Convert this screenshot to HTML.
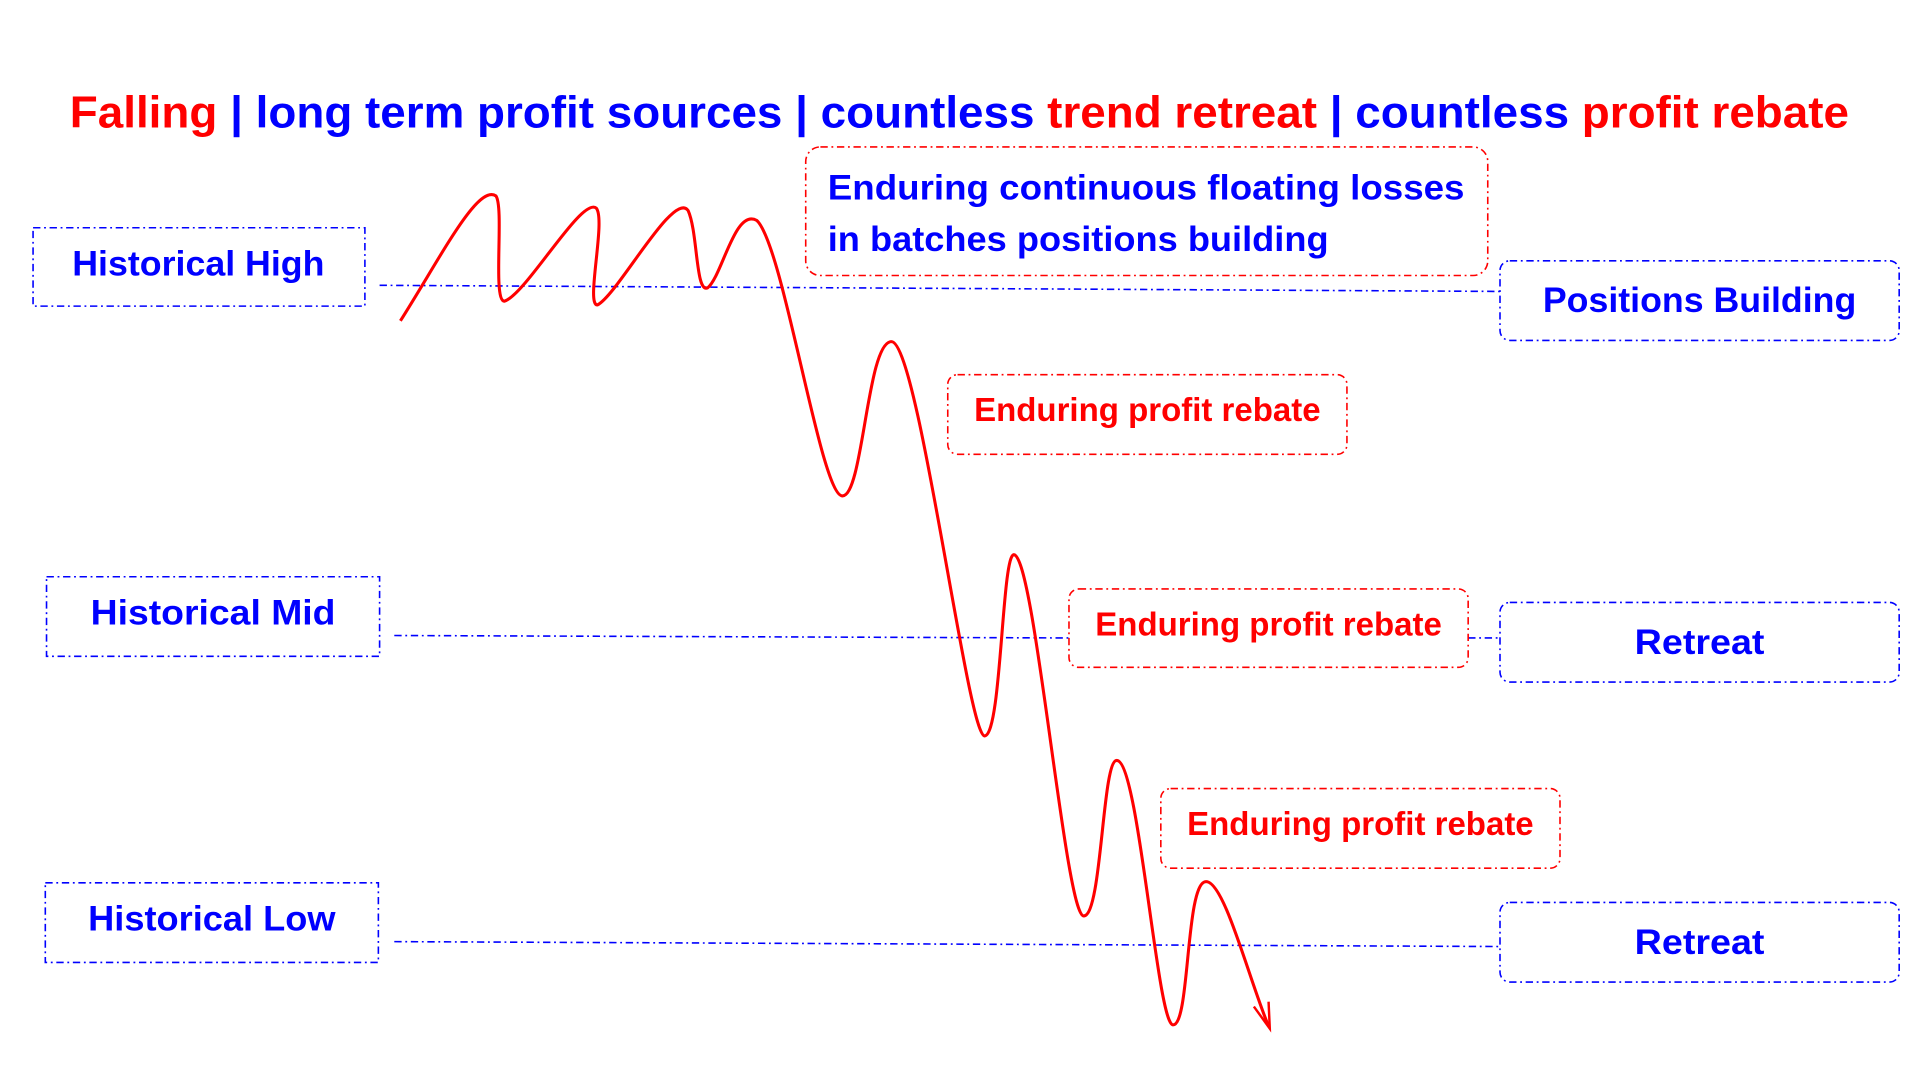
<!DOCTYPE html>
<html><head><meta charset="utf-8"><style>html,body{margin:0;padding:0;background:#fff}svg{display:block}</style></head>
<body>
<svg width="1920" height="1080" viewBox="0 0 1568 882" preserveAspectRatio="none" xmlns="http://www.w3.org/2000/svg" font-family="'Liberation Sans', sans-serif" font-weight="bold">
<rect width="1568" height="882" fill="#fff"/>
<text x="57" y="104" font-size="36" textLength="1453" lengthAdjust="spacingAndGlyphs"><tspan fill="#f00">Falling</tspan><tspan fill="#00f"> | long term profit sources | countless </tspan><tspan fill="#f00">trend retreat</tspan><tspan fill="#00f"> | countless </tspan><tspan fill="#f00">profit rebate</tspan></text>
<g fill="none" stroke="#00f" stroke-width="1.3" stroke-dasharray="6,3,1.5,3">
<rect x="27" y="186" width="271" height="64"/>
<rect x="38" y="471" width="272" height="65"/>
<rect x="37" y="721" width="272" height="65"/>
<rect x="1225" y="213" width="326" height="65" rx="8"/>
<rect x="1225" y="492" width="326" height="65" rx="8"/>
<rect x="1225" y="737" width="326" height="65" rx="8"/>
<line x1="310" y1="233" x2="1225" y2="238"/>
<line x1="322" y1="519" x2="873" y2="521"/>
<line x1="1199" y1="521" x2="1225" y2="521"/>
<line x1="322" y1="769" x2="1225" y2="773"/>
</g>
<g fill="none" stroke="#f00" stroke-width="1.3" stroke-dasharray="6,3,1.5,3">
<rect x="658" y="120" width="557" height="105" rx="12"/>
<rect x="774" y="306" width="326" height="65" rx="8"/>
<rect x="873" y="481" width="326" height="64" rx="8"/>
<rect x="948" y="644" width="326" height="65" rx="8"/>
</g>
<g fill="#00f" font-size="29" text-anchor="middle">
<text x="162" y="225" textLength="206" lengthAdjust="spacingAndGlyphs">Historical High</text>
<text x="174" y="510" textLength="200" lengthAdjust="spacingAndGlyphs">Historical Mid</text>
<text x="173" y="760" textLength="202" lengthAdjust="spacingAndGlyphs">Historical Low</text>
<text x="1388" y="255" textLength="256" lengthAdjust="spacingAndGlyphs">Positions Building</text>
<text x="1388" y="534" textLength="106" lengthAdjust="spacingAndGlyphs">Retreat</text>
<text x="1388" y="779" textLength="106" lengthAdjust="spacingAndGlyphs">Retreat</text>
</g>
<g fill="#00f" font-size="29">
<text x="676" y="163" textLength="520" lengthAdjust="spacingAndGlyphs">Enduring continuous floating losses</text>
<text x="676" y="205" textLength="409" lengthAdjust="spacingAndGlyphs">in batches positions building</text>
</g>
<g fill="#f00" font-size="27" text-anchor="middle">
<text x="937" y="344" textLength="283" lengthAdjust="spacingAndGlyphs">Enduring profit rebate</text>
<text x="1036" y="519" textLength="283" lengthAdjust="spacingAndGlyphs">Enduring profit rebate</text>
<text x="1111" y="682" textLength="283" lengthAdjust="spacingAndGlyphs">Enduring profit rebate</text>
</g>
<path fill="none" stroke="#f00" stroke-width="2.5" d="M327,262 C360,210 390,150 405,160 C412,170 402,246 412,246 C430,240 475,160 487,170 C495,180 478,250 488,249 C505,240 550,155 562,172 C570,190 568,240 578,235 C590,225 600,170 618,180 C640,200 670,405 688,405 C705,405 708,279 728,279 C750,279 790,600 804,601 C818,601 818,453 828,453 C845,453 870,748 885,748 C900,748 900,621 912,621 C930,621 945,837 958,837 C972,837 968,720 985,720 C1000,720 1020,800 1036,838"/>
<path fill="none" stroke="#f00" stroke-width="2" d="M1024,822 L1037,840 L1036,818"/>
</svg>
</body></html>
